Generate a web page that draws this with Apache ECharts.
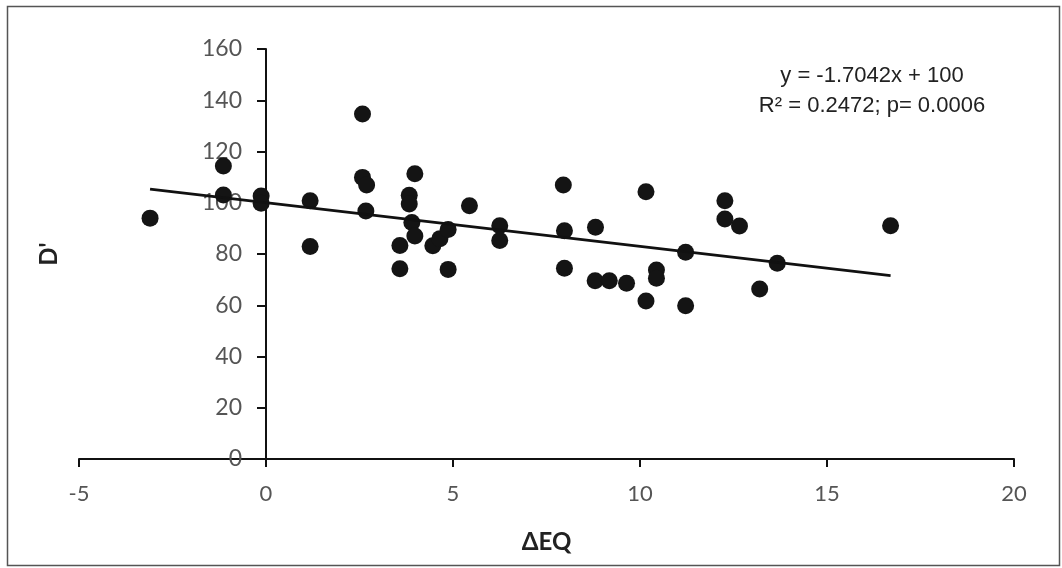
<!DOCTYPE html>
<html>
<head>
<meta charset="utf-8">
<script src="https://cdn.jsdelivr.net/npm/echarts@6/dist/echarts.min.js"></script>
<style>
html,body{margin:0;padding:0;background:#fff;}
#c{width:1062px;height:568px;}
</style>
</head>
<body>
<div id="c"></div>
<script>
// Data
const deltaEQ = [-3.1, -1.14, -1.14, -0.13, -0.13, 1.18, 1.18, 2.58, 2.58, 2.69, 2.67,
  3.98, 3.83, 3.83, 3.9, 3.98, 3.58, 3.58, 4.46, 4.65, 4.87, 4.87, 5.44,
  6.25, 6.25, 7.95, 7.98, 7.98, 8.81, 8.8, 9.18, 9.64, 10.16, 10.16, 10.44, 10.44,
  11.22, 11.22, 12.27, 12.27, 12.66, 13.2, 13.67, 16.7];
const dPrime = [94, 114.3, 103, 102.6, 99.8, 100.8, 82.9, 134.6, 109.9, 106.9, 96.8,
  111.3, 102.9, 99.5, 92.3, 87, 83.3, 74.2, 83.2, 86, 89.6, 74, 98.8,
  91, 85.3, 106.9, 89.1, 74.4, 90.4, 69.6, 69.6, 68.6, 104.3, 61.7, 73.8, 70.5,
  80.7, 59.8, 100.8, 93.7, 90.9, 66.3, 76.4, 91];
const slope = -1.7042;
const intercept = 100;
const fitRange = [-3.1, 16.7];
const xTicks = [-5, 0, 5, 10, 15, 20];
const yTicks = [0, 20, 40, 60, 80, 100, 120, 140, 160];
const annotation = ['y = -1.7042x + 100', 'R² = 0.2472; p= 0.0006'];

const points = deltaEQ.map((x, i) => [x, dPrime[i]]);
const fitLine = fitRange.map(x => [x, slope * x + intercept]);

const gridLeft = 79, gridRight = 48;
const plotWidth = 1062 - gridLeft - gridRight;
const xMin = xTicks[0], xMax = xTicks[xTicks.length - 1];
// shift the y axis so it sits at x = 0 of the x axis
const yAxisOffset = -plotWidth * (0 - xMin) / (xMax - xMin);

const chart = echarts.init(document.getElementById('c'), null, {renderer: 'canvas'});
chart.setOption({
  animation: false,
  backgroundColor: '#ffffff',
  grid: {left: gridLeft, right: gridRight, top: 49, bottom: 109, containLabel: false, outerBoundsMode: 'none'},
  xAxis: {
    type: 'value', min: xMin, max: xMax, interval: 5,
    splitLine: {show: false},
    axisLine: {onZero: false, lineStyle: {color: '#111', width: 2}},
    axisTick: {show: true, inside: false, length: 8, lineStyle: {color: '#111', width: 2}},
    axisLabel: {margin: 24, fontFamily: 'Lato', fontSize: 22, color: '#555'},
    name: 'ΔEQ', nameLocation: 'middle', nameGap: 71,
    nameTextStyle: {fontFamily: 'Lato', fontWeight: 'bold', fontSize: 24, color: '#222'}
  },
  yAxis: {
    type: 'value', min: yTicks[0], max: yTicks[yTicks.length - 1], interval: 20,
    offset: yAxisOffset,
    splitLine: {show: false},
    axisLine: {onZero: false, lineStyle: {color: '#111', width: 2}},
    axisTick: {show: true, inside: false, length: 9, lineStyle: {color: '#111', width: 2}},
    axisLabel: {margin: 24, fontFamily: 'Lato', fontSize: 23, color: '#555'},
    name: "D'", nameLocation: 'middle', nameGap: 205,
    nameTextStyle: {fontFamily: 'Lato', fontWeight: 'bold', fontSize: 24, color: '#222'}
  },
  series: [
    {
      type: 'scatter', data: points, symbol: 'circle', symbolSize: 17,
      itemStyle: {color: '#141414', opacity: 1}, z: 3
    },
    {
      type: 'line', data: fitLine, symbol: 'none', silent: true,
      lineStyle: {color: '#111', width: 2.8}, z: 4
    }
  ],
  graphic: [
    {type: 'rect', left: 5, top: 4, shape: {width: 1052, height: 559},
     style: {fill: 'none', stroke: '#555', lineWidth: 1.5}, silent: true},
    {type: 'text', x: 872, y: 76, style: {text: annotation[0], font: '22px "Liberation Sans", Arial, sans-serif',
      fill: '#222', textAlign: 'center', textVerticalAlign: 'middle'}},
    {type: 'text', x: 872, y: 106, style: {text: annotation[1], font: '22px "Liberation Sans", Arial, sans-serif',
      fill: '#222', textAlign: 'center', textVerticalAlign: 'middle'}}
  ]
});
</script>
</body>
</html>
